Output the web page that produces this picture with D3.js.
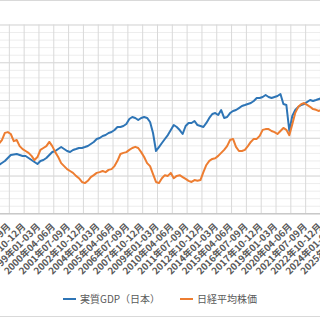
<!DOCTYPE html>
<html>
<head>
<meta charset="utf-8">
<script src="https://d3js.org/d3.v7.min.js"></script>
<style>
body { margin: 0; background: #fff; }
svg { display: block; font-family: "Noto Sans CJK JP", "Noto Sans", sans-serif; }
</style>
</head>
<body>
<div id="chart"></div>
<script>
// Quarterly data, 1994 Q1 .. 2025 Q2
var startYear = 1994;
var quarterNames = ["01-03", "04-06", "07-09", "10-12"];
var seriesNames = ["実質GDP（日本）", "日経平均株価"];

// real GDP (trillion yen, left axis)
var gdp = [443.7,444.8,444.8,445.9,446.9,448.0,449.0,451.2,453.3,455.4,
  458.6,461.8,462.3,462.8,461.8,460.7,460.7,458.6,456.5,454.3,
  452.2,455.4,456.5,458.6,461.8,464.9,466.0,468.1,470.2,468.1,
  466.0,464.9,467.1,468.1,469.2,469.2,470.2,471.3,473.4,475.5,
  478.7,479.8,481.9,482.9,485.1,486.1,488.2,491.4,491.4,492.5,
  494.6,499.9,502.0,501.0,498.8,501.0,502.0,501.0,496.7,485.1,
  466.0,470.2,474.5,478.7,482.9,488.2,493.5,491.4,488.2,484.0,
  492.5,495.7,495.7,497.8,493.5,492.5,491.4,495.7,501.0,505.2,
  506.2,504.1,509.4,501.0,502.0,506.2,508.4,509.4,511.5,513.7,
  514.7,515.8,516.8,519.0,522.1,522.1,523.2,525.3,523.2,522.1,
  523.2,524.3,526.4,515.8,514.7,487.2,503.1,509.4,512.6,514.7,
  515.8,517.9,520.0,519.0,520.0,521.1,522.1,523.2,523.2,524.3,
  523.2,524.3,525.3,525.3,526.4,526.4];

// Nikkei 225 average (yen, right axis)
var nikkei = [19700,20500,20200,19400,17800,15400,16500,18400,19400,21300,
  21500,21000,19100,19400,17800,17000,16500,16000,15200,14100,
  14900,16800,17300,17800,18900,17800,16200,14900,13300,12500,
  11700,11200,10700,9900,9300,8300,8000,8600,9600,10100,
  10700,10900,11200,10900,11500,11700,12500,13900,15700,16000,
  16200,16800,17300,17600,17300,16200,14900,13300,12500,10400,
  8300,8000,9300,10100,9900,10700,9300,9900,10100,9600,
  9100,8600,8300,8800,8600,8800,10900,12800,13900,14400,
  14600,15200,16000,16800,17800,19400,19700,17600,16500,16500,
  16800,17800,18900,19700,19700,20500,22100,22300,22300,21800,
  21500,21000,21800,22600,22100,20700,23600,26600,28200,28900,
  29200,28700,28200,27600,27400,27100,27600,28900,32100,32700,
  33200,36600,39300,39800,39300,38000];

var gdpDomain = [400, 600];
var nikkeiDomain = [0, 50000];
var labelStep = 5;

// category labels
var categories = [];
for (var k = 0; k < gdp.length; k++) {
    var yr = startYear + Math.floor(k / 4);
    categories.push(yr + "年" + quarterNames[k % 4] + "月");
}

var W = 320, H = 320;
var plotTop = 24.5, plotBottom = 213.3;
var colors = ["#2e75b6", "#ed7d31"];

var svg = d3.select("#chart").append("svg")
    .attr("width", W).attr("height", H);

// chart frame (cropped at left / right)
svg.append("rect")
    .attr("x", -5).attr("y", 0.5)
    .attr("width", W + 10).attr("height", 316)
    .attr("fill", "#fff").attr("stroke", "#d9d9d9");

var x = d3.scaleLinear().domain([0, categories.length - 1]).range([-21.8, 348.6]);
var yL = d3.scaleLinear().domain(gdpDomain).range([plotBottom, plotTop]);
var yR = d3.scaleLinear().domain(nikkeiDomain).range([plotBottom, plotTop]);

var plotLeft = x(0) - 1.5, plotRight = x(categories.length - 1) + 1.5;
var tickIdx = d3.range(0, categories.length, labelStep);

// minor horizontal grid
svg.append("g")
    .attr("transform", "translate(" + plotLeft + ",0)")
    .call(d3.axisRight(yR).ticks(25).tickSize(plotRight - plotLeft).tickFormat(""))
    .call(function(g) {
        g.select(".domain").remove();
        g.selectAll("line").attr("stroke", "#ededed");
    });

// major horizontal grid
svg.append("g")
    .attr("transform", "translate(" + plotLeft + ",0)")
    .call(d3.axisRight(yR).ticks(5).tickSize(plotRight - plotLeft).tickFormat(""))
    .call(function(g) {
        g.select(".domain").remove();
        g.selectAll("line").attr("stroke", "#d9d9d9");
    });

// vertical grid
svg.append("g")
    .attr("transform", "translate(1,0)")
    .call(d3.axisBottom(x).tickValues(tickIdx).tickSize(plotTop).tickFormat(""))
    .call(function(g) {
        g.select(".domain").remove();
        g.selectAll("line").attr("y1", plotTop).attr("y2", plotBottom).attr("stroke", "#d9d9d9");
    });

// x axis with rotated labels
var xAxis = svg.append("g")
    .attr("transform", "translate(0," + plotBottom + ")")
    .call(d3.axisBottom(x).tickValues(tickIdx).tickSize(0)
        .tickFormat(function(i) { return categories[i]; }));
xAxis.select(".domain").attr("stroke", "#bfbfbf").attr("d", "M" + plotLeft + ",0.5H" + plotRight);
xAxis.selectAll("text")
    .attr("x", 0).attr("y", 0).attr("dy", 0)
    .attr("transform", "translate(3,14) rotate(-45)")
    .attr("text-anchor", "end")
    .attr("font-size", "9.5px")
    .attr("font-family", "'Noto Sans CJK JP', sans-serif")
    .attr("font-weight", "bold")
    .attr("fill", "#595959");

// series lines
var lineL = d3.line().x(function(d, i) { return x(i); }).y(function(d) { return yL(d); });
var lineR = d3.line().x(function(d, i) { return x(i); }).y(function(d) { return yR(d); });

svg.append("path").datum(gdp)
    .attr("d", lineL).attr("fill", "none")
    .attr("stroke", colors[0]).attr("stroke-width", 2)
    .attr("stroke-linejoin", "round");

svg.append("path").datum(nikkei)
    .attr("d", lineR).attr("fill", "none")
    .attr("stroke", colors[1]).attr("stroke-width", 2)
    .attr("stroke-linejoin", "round");

// legend
var legendPos = [63, 180];
var legend = svg.append("g").attr("transform", "translate(0,299)");
seriesNames.forEach(function(name, s) {
    legend.append("line")
        .attr("x1", legendPos[s]).attr("x2", legendPos[s] + 13)
        .attr("y1", 0).attr("y2", 0)
        .attr("stroke", colors[s]).attr("stroke-width", 2);
    legend.append("text")
        .attr("x", legendPos[s] + 17).attr("y", 4)
        .attr("font-size", "10px")
        .attr("fill", "#595959")
        .text(name);
});
</script>
</body>
</html>
